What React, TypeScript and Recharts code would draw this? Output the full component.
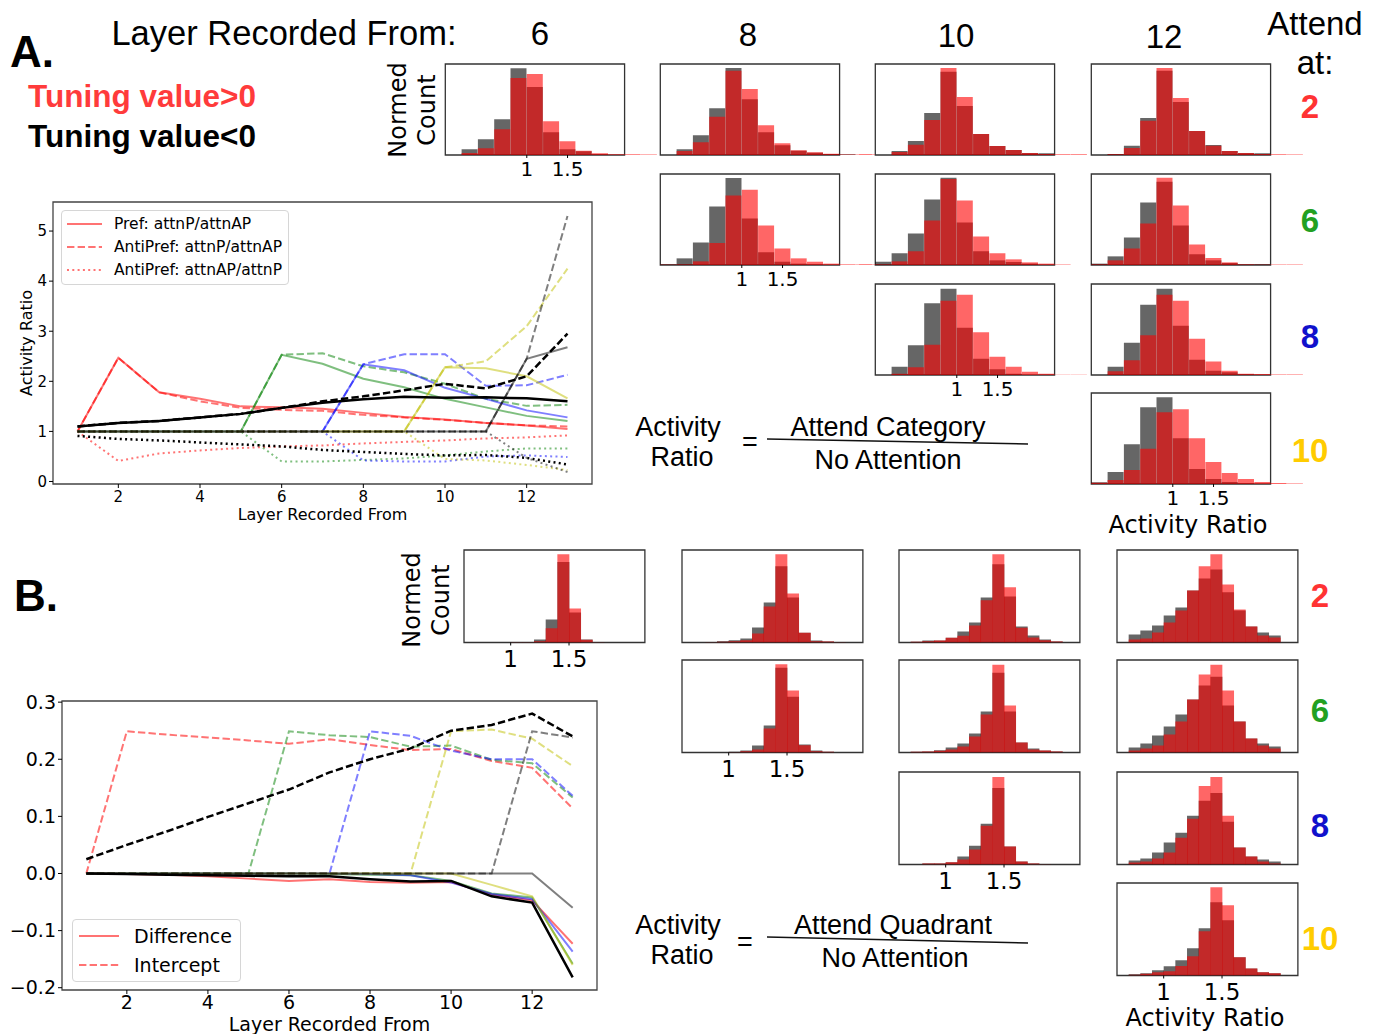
import React from 'react';
import { BarChart, Bar, LineChart, Line, XAxis, YAxis, ReferenceArea, Legend } from 'recharts';

const SANS = '"Liberation Sans", Arial, sans-serif';
const MPL = '"DejaVu Sans", sans-serif';

// ---------- histograms: bin starts ----------
// panel A bins are 0.2 wide, panel B bins 0.1 wide
const binsA = ['-0.2', '0.0', '0.2', '0.4', '0.6', '0.8', '1.0', '1.2', '1.4', '1.6', '1.8', '2.0', '2.2', '2.4'];
const binsB = ['0.6', '0.7', '0.8', '0.9', '1.0', '1.1', '1.2', '1.3', '1.4', '1.5', '1.6', '1.7', '1.8', '1.9', '2.0', '2.1'];

// heights as a fraction of the frame height; grey = tuning<0, red = tuning>0
const a6at2Grey = [0, 0, 0.062, 0.173, 0.393, 0.952, 0.746, 0.25, 0.062, 0.04, 0.007, 0, 0, 0];
const a6at2Red = [0, 0, 0.022, 0.074, 0.283, 0.846, 0.89, 0.371, 0.15, 0.048, 0.018, 0.007, 0.007, 0.005];
const a8at2Grey = [0, 0, 0.062, 0.217, 0.515, 0.956, 0.614, 0.25, 0.107, 0.048, 0.026, 0.011, 0.007, 0];
const a8at2Red = [0, 0, 0.044, 0.14, 0.419, 0.926, 0.724, 0.327, 0.129, 0.051, 0.029, 0.015, 0.005, 0.005];
const a10at2Grey = [0, 0, 0.044, 0.154, 0.462, 0.916, 0.538, 0.231, 0.099, 0.055, 0.022, 0.018, 0, 0];
const a10at2Red = [0.005, 0, 0.033, 0.114, 0.385, 0.956, 0.637, 0.231, 0.099, 0.055, 0.022, 0.011, 0.007, 0.007];
const a12at2Grey = [0, 0, 0.011, 0.103, 0.407, 0.927, 0.582, 0.264, 0.11, 0.044, 0.022, 0.018, 0, 0];
const a12at2Red = [0, 0, 0.007, 0.077, 0.377, 0.956, 0.626, 0.264, 0.103, 0.044, 0.022, 0.011, 0.007, 0.005];
const a8at6Grey = [0, 0.007, 0.073, 0.248, 0.642, 0.956, 0.511, 0.139, 0.036, 0.015, 0.007, 0, 0, 0];
const a8at6Red = [0, 0.004, 0.007, 0.04, 0.241, 0.763, 0.828, 0.434, 0.182, 0.073, 0.036, 0.015, 0.007, 0.005];
const a10at6Grey = [0, 0.036, 0.128, 0.347, 0.719, 0.96, 0.467, 0.15, 0.051, 0.033, 0.015, 0, 0, 0];
const a10at6Red = [0.005, 0.007, 0.04, 0.15, 0.489, 0.945, 0.708, 0.314, 0.128, 0.062, 0.029, 0.015, 0.005, 0];
const a12at6Grey = [0, 0.015, 0.095, 0.303, 0.686, 0.916, 0.434, 0.117, 0.051, 0.022, 0.007, 0.007, 0, 0];
const a12at6Red = [0, 0.007, 0.051, 0.182, 0.456, 0.96, 0.653, 0.226, 0.077, 0.029, 0.007, 0.004, 0.005, 0.005];
const a10at8Grey = [0, 0, 0.092, 0.326, 0.788, 0.949, 0.52, 0.179, 0.062, 0.015, 0, 0, 0, 0];
const a10at8Red = [0, 0, 0.015, 0.084, 0.333, 0.817, 0.883, 0.469, 0.201, 0.092, 0.037, 0.015, 0.004, 0.004];
const a12at8Grey = [0, 0, 0.092, 0.355, 0.773, 0.949, 0.542, 0.168, 0.048, 0.029, 0.007, 0, 0, 0];
const a12at8Red = [0, 0, 0.04, 0.161, 0.436, 0.883, 0.817, 0.399, 0.147, 0.048, 0.015, 0.011, 0.005, 0.005];
const a12at10Grey = [0, 0.018, 0.131, 0.438, 0.843, 0.953, 0.504, 0.164, 0.055, 0.022, 0.007, 0, 0, 0];
const a12at10Red = [0, 0.015, 0.044, 0.153, 0.387, 0.788, 0.821, 0.504, 0.241, 0.12, 0.055, 0.022, 0.011, 0.005];

const b6at2Grey = [0, 0, 0, 0, 0.004, 0.004, 0.032, 0.249, 0.87, 0.325, 0.032, 0.004, 0, 0, 0, 0];
const b6at2Red = [0, 0, 0, 0, 0.004, 0.004, 0.014, 0.155, 0.953, 0.368, 0.029, 0.004, 0, 0, 0, 0];
const b8at2Grey = [0, 0, 0.004, 0.014, 0.025, 0.043, 0.162, 0.433, 0.823, 0.487, 0.105, 0.022, 0.011, 0.004, 0, 0];
const b8at2Red = [0, 0, 0.004, 0.007, 0.014, 0.025, 0.097, 0.39, 0.953, 0.531, 0.105, 0.014, 0.011, 0.004, 0, 0];
const b8at6Grey = [0, 0, 0, 0, 0.007, 0.022, 0.076, 0.291, 0.917, 0.604, 0.086, 0.022, 0.007, 0, 0, 0];
const b8at6Red = [0, 0, 0, 0, 0.004, 0.014, 0.032, 0.259, 0.953, 0.669, 0.079, 0.014, 0.007, 0, 0, 0];
const b10at2Grey = [0, 0.007, 0.022, 0.022, 0.05, 0.119, 0.217, 0.487, 0.845, 0.498, 0.173, 0.076, 0.032, 0.011, 0, 0];
const b10at2Red = [0, 0.007, 0.014, 0.022, 0.05, 0.072, 0.184, 0.458, 0.953, 0.596, 0.159, 0.054, 0.025, 0.011, 0, 0];
const b10at6Grey = [0, 0.007, 0.011, 0.025, 0.054, 0.097, 0.205, 0.442, 0.863, 0.442, 0.108, 0.043, 0.022, 0.011, 0, 0];
const b10at6Red = [0, 0.007, 0.011, 0.018, 0.032, 0.065, 0.173, 0.41, 0.95, 0.507, 0.108, 0.032, 0.022, 0.011, 0, 0];
const b10at8Grey = [0, 0, 0.011, 0.011, 0.025, 0.086, 0.204, 0.441, 0.828, 0.194, 0.032, 0.011, 0.004, 0, 0, 0];
const b10at8Red = [0, 0, 0.011, 0.011, 0.025, 0.054, 0.161, 0.419, 0.946, 0.194, 0.032, 0.011, 0.004, 0, 0, 0];
const b12at2Grey = [0, 0.087, 0.13, 0.184, 0.292, 0.379, 0.563, 0.693, 0.79, 0.542, 0.347, 0.173, 0.108, 0.076, 0, 0];
const b12at2Red = [0, 0.032, 0.043, 0.108, 0.217, 0.347, 0.563, 0.823, 0.953, 0.628, 0.357, 0.173, 0.076, 0.054, 0, 0];
const b12at6Grey = [0, 0.054, 0.097, 0.183, 0.281, 0.41, 0.572, 0.723, 0.82, 0.507, 0.335, 0.151, 0.097, 0.065, 0, 0];
const b12at6Red = [0, 0.022, 0.043, 0.076, 0.194, 0.335, 0.572, 0.842, 0.95, 0.669, 0.335, 0.151, 0.076, 0.043, 0, 0];
const b12at8Grey = [0, 0.043, 0.065, 0.129, 0.237, 0.344, 0.527, 0.688, 0.774, 0.462, 0.183, 0.086, 0.054, 0.032, 0, 0];
const b12at8Red = [0, 0.022, 0.032, 0.065, 0.129, 0.29, 0.495, 0.849, 0.946, 0.527, 0.183, 0.086, 0.032, 0.011, 0, 0];
const b12at10Grey = [0, 0.014, 0.025, 0.058, 0.1, 0.165, 0.295, 0.511, 0.791, 0.597, 0.198, 0.076, 0.036, 0.025, 0, 0];
const b12at10Red = [0, 0.007, 0.018, 0.036, 0.047, 0.104, 0.209, 0.478, 0.953, 0.759, 0.198, 0.076, 0.036, 0.025, 0, 0];

const histTicks = [1, 1.5];

// ---------- line plots ----------
const layers = [1, 2, 3, 4, 5, 6, 7, 8, 9, 10, 11, 12, 13];
const layerTicks = [2, 4, 6, 8, 10, 12];

// panel A: activity ratio (S = pref attnP/attnAP, D = antipref attnP/attnAP, O = antipref attnAP/attnP)
const aRedS = [1.0, 2.47, 1.78, 1.65, 1.5, 1.48, 1.45, 1.37, 1.29, 1.24, 1.17, 1.12, 1.05];
const aRedD = [1.0, 2.47, 1.78, 1.6, 1.47, 1.43, 1.41, 1.33, 1.28, 1.23, 1.17, 1.12, 1.1];
const aRedO = [1.0, 0.41, 0.56, 0.62, 0.67, 0.7, 0.72, 0.76, 0.79, 0.82, 0.86, 0.88, 0.92];
const aGreenS = [1, 1, 1, 1, 1, 2.53, 2.35, 2.05, 1.88, 1.65, 1.48, 1.31, 1.21];
const aGreenD = [1, 1, 1, 1, 1, 2.53, 2.56, 2.3, 2.18, 1.95, 1.65, 1.51, 1.53];
const aGreenO = [1, 1, 1, 1, 1, 0.4, 0.4, 0.43, 0.46, 0.52, 0.6, 0.66, 0.66];
const aBlueS = [1, 1, 1, 1, 1, 1, 1, 2.34, 2.22, 1.87, 1.65, 1.42, 1.28];
const aBlueD = [1, 1, 1, 1, 1, 1, 1, 2.34, 2.54, 2.54, 1.91, 1.92, 2.13];
const aBlueO = [1, 1, 1, 1, 1, 1, 1, 0.42, 0.4, 0.4, 0.5, 0.52, 0.49];
const aYellowS = [1, 1, 1, 1, 1, 1, 1, 1, 1, 2.28, 2.26, 2.1, 1.66];
const aYellowD = [1, 1, 1, 1, 1, 1, 1, 1, 1, 2.28, 2.4, 3.1, 4.25];
const aYellowO = [1, 1, 1, 1, 1, 1, 1, 1, 1, 0.45, 0.42, 0.33, 0.23];
const aGreyS = [1, 1, 1, 1, 1, 1, 1, 1, 1, 1, 1, 2.45, 2.68];
const aGreyD = [1, 1, 1, 1, 1, 1, 1, 1, 1, 1, 1, 2.45, 5.3];
const aGreyO = [1, 1, 1, 1, 1, 1, 1, 1, 1, 1, 1, 0.47, 0.19];
const aBlackS = [1.1, 1.17, 1.21, 1.28, 1.35, 1.47, 1.57, 1.64, 1.69, 1.67, 1.68, 1.66, 1.6];
const aBlackD = [1.1, 1.17, 1.21, 1.28, 1.35, 1.47, 1.6, 1.7, 1.82, 1.95, 1.86, 2.1, 2.95];
const aBlackO = [0.91, 0.85, 0.82, 0.78, 0.74, 0.7, 0.63, 0.59, 0.55, 0.52, 0.53, 0.47, 0.34];

// panel B: S = difference, D = intercept
const bRedS = [0, -0.001, -0.002, -0.005, -0.009, -0.013, -0.01, -0.015, -0.016, -0.015, -0.037, -0.047, -0.123];
const bRedD = [0, 0.249, 0.243, 0.238, 0.233, 0.227, 0.235, 0.225, 0.216, 0.218, 0.197, 0.185, 0.114];
const bGreenS = [0, 0, 0, 0, 0, 0, -0.001, -0.002, -0.003, -0.013, -0.035, -0.042, -0.158];
const bGreenD = [0, 0, 0, 0, 0, 0.249, 0.242, 0.239, 0.222, 0.224, 0.199, 0.193, 0.133];
const bBlueS = [0, 0, 0, 0, 0, 0, 0, -0.001, -0.003, -0.016, -0.036, -0.045, -0.137];
const bBlueD = [0, 0, 0, 0, 0, 0, 0, 0.249, 0.241, 0.215, 0.2, 0.2, 0.136];
const bYellowS = [0, 0, 0, 0, 0, 0, 0, 0, 0, 0, -0.02, -0.04, -0.16];
const bYellowD = [0, 0, 0, 0, 0, 0, 0, 0, 0, 0.249, 0.252, 0.236, 0.188];
const bGreyS = [0, 0, 0, 0, 0, 0, 0, 0, 0, 0, 0, 0, -0.06];
const bGreyD = [0, 0, 0, 0, 0, 0, 0, 0, 0, 0, 0, 0.249, 0.238];
const bBlackS = [0, -0.001, -0.002, -0.003, -0.004, -0.005, -0.005, -0.01, -0.014, -0.013, -0.04, -0.051, -0.182];
const bBlackD = [0.025, 0.05, 0.074, 0.099, 0.123, 0.147, 0.177, 0.2, 0.219, 0.25, 0.26, 0.28, 0.24];

const legendA = ['Pref: attnP/attnAP', 'AntiPref: attnP/attnAP', 'AntiPref: attnAP/attnP'];
const legendB = ['Difference', 'Intercept'];

const DASH = '7.4 3.2';
const DOT = '2 3.3';
const STYLES = [undefined, DASH, DOT];

// matplotlib r, g, b, y, k at alpha .5, and k
const COLORS = [
  { c: '#ff0000', o: 0.55, w: 2 },
  { c: '#008000', o: 0.5, w: 2 },
  { c: '#0000ff', o: 0.5, w: 2 },
  { c: '#bfbf00', o: 0.5, w: 2 },
  { c: '#000000', o: 0.5, w: 2 },
  { c: '#000000', o: 1, w: 2.5 },
];

const seriesA = [
  [aRedS, aRedD, aRedO],
  [aGreenS, aGreenD, aGreenO],
  [aBlueS, aBlueD, aBlueO],
  [aYellowS, aYellowD, aYellowO],
  [aGreyS, aGreyD, aGreyO],
  [aBlackS, aBlackD, aBlackO],
];
const seriesB = [
  [bRedS, bRedD],
  [bGreenS, bGreenD],
  [bBlueS, bBlueD],
  [bYellowS, bYellowD],
  [bGreyS, bGreyD],
  [bBlackS, bBlackD],
];

const toRows = (series: number[][][]) =>
  layers.map((layer, i) => {
    const row: any = { layer };
    series.forEach((group, c) => group.forEach((vals, s) => { row[`s${c}_${s}`] = vals[i]; }));
    return row;
  });

const renderLines = (series: number[][][]) =>
  series.flatMap((group, c) =>
    group.map((_, s) => (
      <Line
        key={`s${c}_${s}`}
        type="linear"
        dataKey={`s${c}_${s}`}
        stroke={COLORS[c].c}
        strokeOpacity={COLORS[c].o}
        strokeWidth={COLORS[c].w}
        strokeDasharray={STYLES[s]}
        dot={false}
        activeDot={false}
        isAnimationActive={false}
      />
    ))
  );

const LegendBox = ({ labels, fontSize, lineLen, rowH, gap, padL, padR, padT, padB }: any) => (
  <div
    style={{
      border: '1px solid #d6d6d6',
      borderRadius: 4,
      background: 'rgba(255,255,255,0.85)',
      padding: `${padT}px ${padR}px ${padB}px ${padL}px`,
      fontFamily: MPL,
      fontSize,
      color: '#000',
    }}
  >
    {labels.map((label: string, i: number) => (
      <div key={label} style={{ display: 'flex', alignItems: 'center', height: rowH, whiteSpace: 'nowrap' }}>
        <svg width={lineLen} height={10} style={{ flex: 'none' }}>
          <line x1={0} y1={5} x2={lineLen} y2={5} stroke="#ff0000" strokeOpacity={0.55} strokeWidth={2} strokeDasharray={STYLES[i]} />
        </svg>
        <span style={{ marginLeft: gap }}>{label}</span>
      </div>
    ))}
  </div>
);

// ---------- histogram panel ----------
const cfgA = { bins: binsA, step: 0.2, lo: -0.2, hi: 2.6, box: [0, 2.2], ppu: 81.5, boxH: 91, font: 20, margin: 4 };
const cfgB = { bins: binsB, step: 0.1, lo: 0.6, hi: 2.2, box: [0.6, 2.15], ppu: 116.7, boxH: 92.5, font: 23, margin: 5 };

const Hist = ({ cfg, grey, red, left, top, ticks }: any) => {
  const data = cfg.bins.map((bin: string, i: number) => ({
    bin,
    mid: parseFloat(bin) + cfg.step / 2,
    grey: grey[i],
    red: red[i],
  }));
  const pad = 2;
  const axisH = 36;
  const plotW = (cfg.hi - cfg.lo) * cfg.ppu;
  const chartLeft = left - (cfg.box[0] - cfg.lo) * cfg.ppu - pad;
  return (
    <div style={{ position: 'absolute', left: chartLeft, top: top - pad }}>
      <BarChart
        width={plotW + 2 * pad}
        height={cfg.boxH + pad + axisH}
        data={data}
        margin={{ top: pad, right: pad, bottom: 0, left: pad }}
        barCategoryGap={0}
        barGap={0}
      >
        {/* visible numeric axis first, so it sits right under the frame */}
        <XAxis
          xAxisId="t"
          dataKey="mid"
          type="number"
          scale="linear"
          domain={[cfg.lo, cfg.hi]}
          allowDataOverflow
          ticks={histTicks}
          interval={0}
          height={axisH}
          axisLine={false}
          tickLine={ticks ? { stroke: '#000' } : false}
          tickSize={3}
          tickMargin={cfg.margin}
          tick={ticks ? { fontSize: cfg.font, fill: '#000', fontFamily: MPL } : false}
        />
        <XAxis xAxisId="g" dataKey="bin" hide height={0} />
        <XAxis xAxisId="r" dataKey="bin" hide height={0} />
        <YAxis domain={[0, 1]} allowDataOverflow hide />
        <Bar xAxisId="g" dataKey="grey" fill="#000" fillOpacity={0.6} isAnimationActive={false} />
        <Bar xAxisId="r" dataKey="red" fill="#ff0000" fillOpacity={0.6} isAnimationActive={false} />
        <ReferenceArea
          xAxisId="t"
          x1={cfg.box[0]}
          x2={cfg.box[1]}
          y1={0}
          y2={1}
          fill="none"
          fillOpacity={0}
          stroke="#333"
          strokeWidth={1.3}
          ifOverflow="visible"
        />
      </BarChart>
    </div>
  );
};

// ---------- text helper ----------
const T = ({ x, y, size, color = '#000', weight = 400, family = SANS, rotate, lh = 1, children }: any) => (
  <div
    style={{
      position: 'absolute',
      left: x,
      top: y,
      transform: `translate(-50%, -50%)${rotate ? ` rotate(${rotate}deg)` : ''}`,
      fontSize: size,
      lineHeight: lh,
      color,
      fontWeight: weight,
      fontFamily: family,
      whiteSpace: 'nowrap',
      textAlign: 'center',
    }}
  >
    {children}
  </div>
);

const FracLine = ({ x1, y1, x2, y2 }: any) => (
  <svg style={{ position: 'absolute', left: 0, top: 0 }} width={1379} height={1034}>
    <line x1={x1} y1={y1} x2={x2} y2={y2} stroke="#111" strokeWidth={1.4} />
  </svg>
);

const App = () => {
  const rowsA = toRows(seriesA);
  const rowsB = toRows(seriesB);
  return (
    <div style={{ position: 'absolute', left: 0, top: 0, width: 1379, height: 1034, background: '#fff', overflow: 'hidden', fontFamily: MPL }}>
      <FracLine x1={767} y1={439} x2={1028} y2={444} />
      <FracLine x1={767} y1={937} x2={1028} y2={943} />

      {/* ---- panel A line plot ---- */}
      <div style={{ position: 'absolute', left: 0, top: 190 }}>
        <LineChart width={600} height={340} data={rowsA} margin={{ top: 12, right: 8, bottom: 0, left: 0 }}>
          <XAxis
            dataKey="layer"
            type="number"
            domain={[0.4, 13.6]}
            allowDataOverflow
            ticks={layerTicks}
            height={46}
            axisLine={false}
            tickLine={{ stroke: '#000' }}
            tickSize={4}
            tickMargin={3}
            tick={{ fontSize: 15, fill: '#000' }}
            label={{ value: 'Layer Recorded From', position: 'insideBottom', offset: 10, style: { fontSize: 16, fill: '#000', textAnchor: 'middle' } }}
          />
          <YAxis
            type="number"
            domain={[-0.05, 5.58]}
            allowDataOverflow
            ticks={[0, 1, 2, 3, 4, 5]}
            width={53}
            axisLine={false}
            tickLine={{ stroke: '#000' }}
            tickSize={4}
            tickMargin={2}
            tick={{ fontSize: 15, fill: '#000' }}
            label={{ value: 'Activity Ratio', angle: -90, position: 'insideLeft', offset: 26, style: { fontSize: 16, fill: '#000', textAnchor: 'middle' } }}
          />
          {renderLines(seriesA)}
          <ReferenceArea x1={0.4} x2={13.6} y1={-0.05} y2={5.58} fill="none" fillOpacity={0} stroke="#444" strokeWidth={1.3} ifOverflow="visible" />
          <Legend
            layout="horizontal"
            align="center"
            verticalAlign="middle"
            wrapperStyle={{ left: 61, top: 20, width: 'auto', height: 'auto' }}
            content={() => (
              <LegendBox labels={legendA} fontSize={15.5} lineLen={35} rowH={23.3} gap={12} padL={5} padR={6} padT={1} padB={2} />
            )}
          />
        </LineChart>
      </div>

      {/* ---- panel B line plot ---- */}
      <div style={{ position: 'absolute', left: 0, top: 690 }}>
        <LineChart width={610} height={344} data={rowsB} margin={{ top: 11, right: 13, bottom: 0, left: 0 }}>
          <XAxis
            dataKey="layer"
            type="number"
            domain={[0.4, 13.6]}
            allowDataOverflow
            ticks={layerTicks}
            height={44}
            axisLine={false}
            tickLine={{ stroke: '#000' }}
            tickSize={4}
            tickMargin={2}
            tick={{ fontSize: 19, fill: '#000' }}
            label={{ value: 'Layer Recorded From', position: 'insideBottom', offset: 3, style: { fontSize: 19, fill: '#000', textAnchor: 'middle' } }}
          />
          <YAxis
            type="number"
            domain={[-0.204, 0.302]}
            allowDataOverflow
            ticks={[-0.2, -0.1, 0, 0.1, 0.2, 0.3]}
            tickFormatter={(v: number) => v.toFixed(1).replace('-', '\u2212')}
            width={62}
            axisLine={false}
            tickLine={{ stroke: '#000' }}
            tickSize={4}
            tickMargin={2}
            tick={{ fontSize: 19, fill: '#000' }}
          />
          {renderLines(seriesB)}
          <ReferenceArea x1={0.4} x2={13.6} y1={-0.204} y2={0.302} fill="none" fillOpacity={0} stroke="#444" strokeWidth={1.3} ifOverflow="visible" />
          <Legend
            layout="horizontal"
            align="center"
            verticalAlign="middle"
            wrapperStyle={{ left: 72, top: 229, width: 'auto', height: 'auto' }}
            content={() => (
              <LegendBox labels={legendB} fontSize={19} lineLen={40} rowH={29} gap={15} padL={6} padR={8} padT={1} padB={2} />
            )}
          />
        </LineChart>
      </div>

      {/* ---- panel A histograms ---- */}
      <Hist cfg={cfgA} grey={a6at2Grey} red={a6at2Red} left={445} top={64} ticks />
      <Hist cfg={cfgA} grey={a8at2Grey} red={a8at2Red} left={660} top={64} />
      <Hist cfg={cfgA} grey={a10at2Grey} red={a10at2Red} left={875.3} top={64} />
      <Hist cfg={cfgA} grey={a12at2Grey} red={a12at2Red} left={1091} top={64} />
      <Hist cfg={cfgA} grey={a8at6Grey} red={a8at6Red} left={660} top={173.5} ticks />
      <Hist cfg={cfgA} grey={a10at6Grey} red={a10at6Red} left={875.3} top={173.5} />
      <Hist cfg={cfgA} grey={a12at6Grey} red={a12at6Red} left={1091} top={173.5} />
      <Hist cfg={cfgA} grey={a10at8Grey} red={a10at8Red} left={875.3} top={283.5} ticks />
      <Hist cfg={cfgA} grey={a12at8Grey} red={a12at8Red} left={1091} top={283.5} />
      <Hist cfg={cfgA} grey={a12at10Grey} red={a12at10Red} left={1091} top={393} ticks />

      {/* ---- panel B histograms ---- */}
      <Hist cfg={cfgB} grey={b6at2Grey} red={b6at2Red} left={464.3} top={549.7} ticks />
      <Hist cfg={cfgB} grey={b8at2Grey} red={b8at2Red} left={681.5} top={549.7} />
      <Hist cfg={cfgB} grey={b8at6Grey} red={b8at6Red} left={681.5} top={660.3} ticks />
      <Hist cfg={cfgB} grey={b10at2Grey} red={b10at2Red} left={898.7} top={549.7} />
      <Hist cfg={cfgB} grey={b10at6Grey} red={b10at6Red} left={898.7} top={660.3} />
      <Hist cfg={cfgB} grey={b10at8Grey} red={b10at8Red} left={898.7} top={771.5} ticks />
      <Hist cfg={cfgB} grey={b12at2Grey} red={b12at2Red} left={1116.7} top={549.7} />
      <Hist cfg={cfgB} grey={b12at6Grey} red={b12at6Red} left={1116.7} top={660.3} />
      <Hist cfg={cfgB} grey={b12at8Grey} red={b12at8Red} left={1116.7} top={771.5} />
      <Hist cfg={cfgB} grey={b12at10Grey} red={b12at10Red} left={1116.7} top={882.7} ticks />

      {/* ---- titles and labels ---- */}
      <T x={32} y={52} size={44} weight={700}>A.</T>
      <T x={36} y={596} size={44} weight={700}>B.</T>
      <T x={284} y={33} size={34.5}>Layer Recorded From:</T>
      <T x={540} y={33} size={33}>6</T>
      <T x={748} y={34} size={33}>8</T>
      <T x={956} y={35} size={33}>10</T>
      <T x={1164} y={36} size={33}>12</T>
      <T x={1315} y={23} size={33}>Attend</T>
      <T x={1315} y={62} size={33}>at:</T>
      <T x={142} y={97} size={31.5} weight={700} color="#ff3b3b">Tuning value&gt;0</T>
      <T x={142} y={137} size={31.5} weight={700}>Tuning value&lt;0</T>

      <T x={413} y={110} size={24} family={MPL} rotate={-90} lh={1.2}>Normed<br />Count</T>
      <T x={427} y={600} size={24} family={MPL} rotate={-90} lh={1.2}>Normed<br />Count</T>

      <T x={1310} y={106} size={33} weight={700} color="#ff3333">2</T>
      <T x={1310} y={220} size={33} weight={700} color="#22a022">6</T>
      <T x={1310} y={336} size={33} weight={700} color="#1111cc">8</T>
      <T x={1310} y={450} size={33} weight={700} color="#ffcc00">10</T>
      <T x={1320} y={595} size={33} weight={700} color="#ff3333">2</T>
      <T x={1320} y={710} size={33} weight={700} color="#22a022">6</T>
      <T x={1320} y={825} size={33} weight={700} color="#1111cc">8</T>
      <T x={1320} y={938} size={33} weight={700} color="#ffcc00">10</T>

      <T x={678} y={427} size={27}>Activity</T>
      <T x={682} y={457} size={27}>Ratio</T>
      <T x={750} y={442} size={27}>=</T>
      <T x={888} y={427} size={27}>Attend Category</T>
      <T x={888} y={460} size={27}>No Attention</T>

      <T x={678} y={925} size={27}>Activity</T>
      <T x={682} y={955} size={27}>Ratio</T>
      <T x={745} y={942} size={27}>=</T>
      <T x={893} y={925} size={27}>Attend Quadrant</T>
      <T x={895} y={958} size={27}>No Attention</T>

      <T x={1188} y={525} size={24} family={MPL}>Activity Ratio</T>
      <T x={1205} y={1018} size={24} family={MPL}>Activity Ratio</T>
    </div>
  );
};

export default App;
